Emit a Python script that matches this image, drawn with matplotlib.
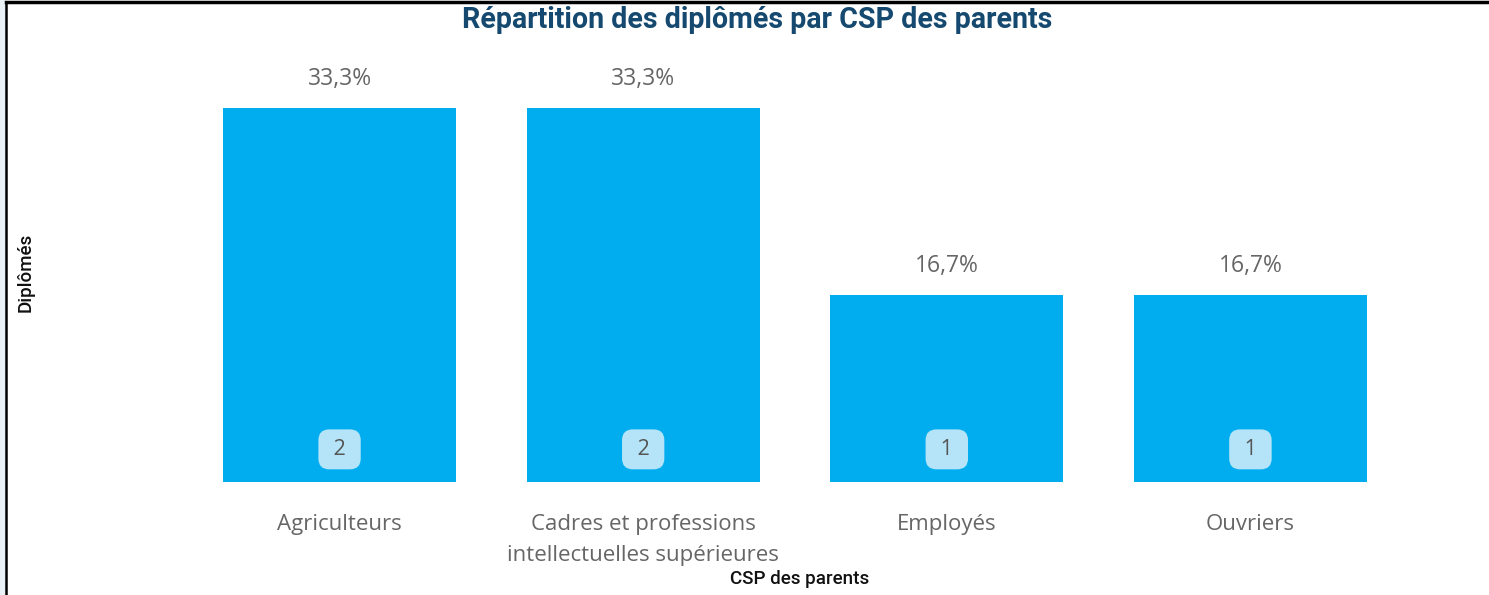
import matplotlib
matplotlib.use("Agg")
import matplotlib.pyplot as plt
from matplotlib.lines import Line2D
from matplotlib.patches import Rectangle

# données
categories = ["Agriculteurs", "Cadres et professions\nintellectuelles supérieures", "Employés", "Ouvriers"]
diplomes = [2, 2, 1, 1]
pourcentages = ["33,3%", "33,3%", "16,7%", "16,7%"]

W, H = 1489, 595
fig = plt.figure(figsize=(W / 100, H / 100), dpi=100)
ax = fig.add_axes([187.75 / W, (H - 482) / H, (1402.25 - 187.75) / W, 0.68])

x = range(len(categories))
ax.bar(x, diplomes, width=0.768, color="#01ADEF")
ax.set_xlim(-0.5, len(categories) - 0.5)
ymax = 0.68 * H / 187
ax.set_ylim(0, ymax)

# étiquettes pourcentage au-dessus des barres
for i, (v, p) in enumerate(zip(diplomes, pourcentages)):
    ax.annotate(p, (i, v), xytext=(0, 12), textcoords="offset points",
                ha="center", va="bottom", fontsize=16.5, color="#666666",
                family="Open Sans")
    # badge avec le nombre
    ax.annotate(f" {v} ", (i, 0), xytext=(0, 23.5), textcoords="offset points",
                ha="center", va="center", fontsize=15.5, color="#555555",
                family="Open Sans",
                bbox=dict(boxstyle="round,pad=0.44,rounding_size=0.5",
                          fc="#B5E4F8", ec="none"))

ax.set_xticks(list(x))
ax.set_xticklabels(categories, fontsize=16, color="#666666", family="Open Sans",
                   linespacing=1.65)
ax.tick_params(axis="x", length=0, pad=23)
ax.set_yticks([])
for s in ax.spines.values():
    s.set_visible(False)

# titres
fig.text(757 / W, 1 - 20 / H, "Répartition des diplômés par CSP des parents",
         ha="center", va="center", fontsize=20.6, fontweight="bold",
         color="#15496F", family="Roboto")
fig.text(26 / W, 1 - 272 / H, "Diplômés", rotation=90, ha="center", va="center",
         fontsize=13.5, fontweight="medium", color="#111111", family="Roboto")
fig.text(800 / W, 1 - 579 / H, "CSP des parents", ha="center", va="center",
         fontsize=13.5, fontweight="medium", color="#111111", family="Roboto")

# cadre
fig.patches.append(Rectangle((0, 0), 5 / W, 1, transform=fig.transFigure,
                             color="#EAF2F7", zorder=0))
fig.lines.append(Line2D([6 / W, 6 / W], [0, 1 - 2 / H], transform=fig.transFigure,
                        color="black", lw=1.8))
fig.lines.append(Line2D([6 / W, 1], [1 - 2 / H, 1 - 2 / H], transform=fig.transFigure,
                        color="black", lw=2.5))

fig.savefig("out.png", dpi=100)
